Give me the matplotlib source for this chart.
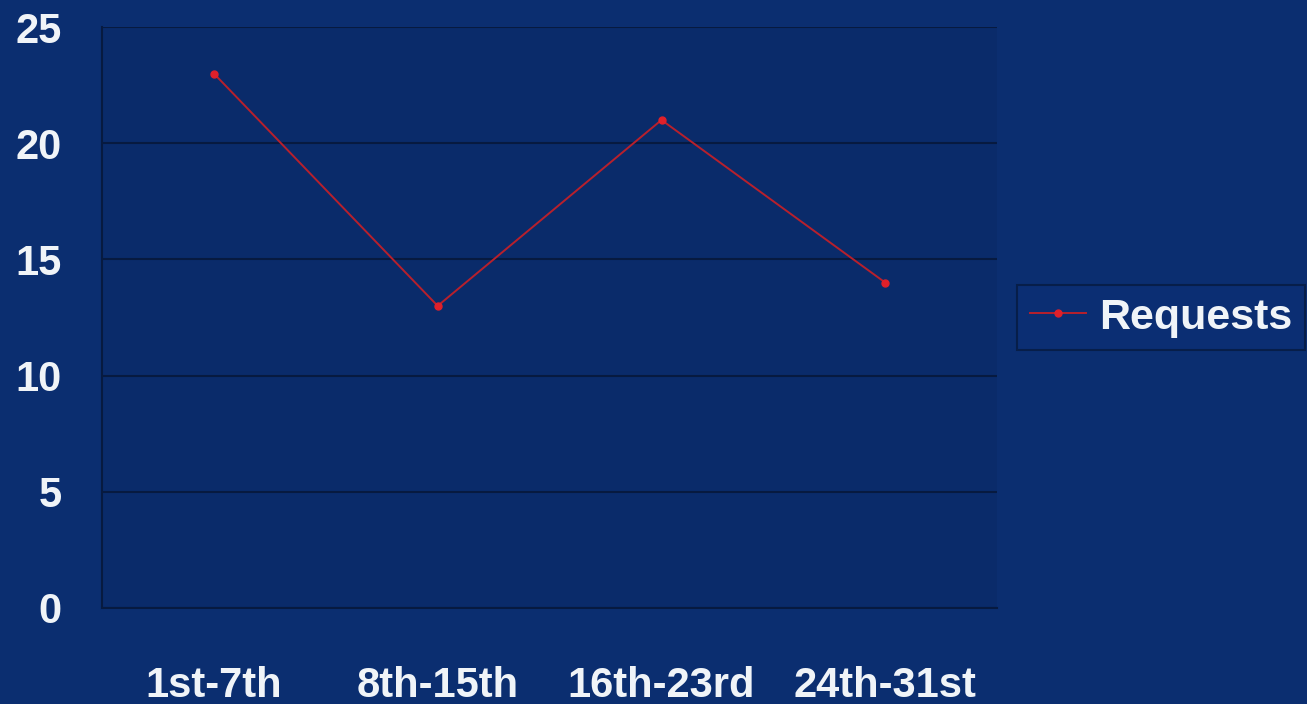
import matplotlib.pyplot as plt

categories = ["1st-7th", "8th-15th", "16th-23rd", "24th-31st"]
requests = [23, 13, 21, 14]

bg = "#0b2e70"
plt.rcParams['font.family'] = ['Liberation Sans', 'DejaVu Sans']

fig = plt.figure(figsize=(13.07, 7.04), dpi=100, facecolor=bg)
ax = fig.add_axes([0.078, 0.1364, 0.685, 0.8252])
ax.set_facecolor("#0a2b6a")

x = range(len(categories))
ax.plot(x, requests, color="#b8202c", lw=1.4, marker="o", ms=5,
        markerfacecolor="#e0202a", markeredgecolor="#e0202a", label="Requests")

ax.set_xlim(-0.5, len(categories) - 0.5)
ax.set_ylim(0, 25)
ax.set_yticks(range(0, 26, 5))
ax.set_xticks(list(x))
ax.set_xticklabels(categories)
ax.yaxis.grid(True, color="#071a40", lw=1.5)
ax.set_axisbelow(True)
for s in ["top", "right"]:
    ax.spines[s].set_visible(False)
ax.spines["left"].set_color("#071a40")
ax.spines["bottom"].set_color("#071a40")
ax.spines["left"].set_linewidth(1.5)
ax.spines["bottom"].set_linewidth(1.5)
ax.tick_params(axis="y", length=0, pad=29, labelsize=30, labelcolor="#f0f4f8")
ax.tick_params(axis="x", length=0, pad=42, labelsize=30, labelcolor="#f0f4f8")
for lbl in ax.get_xticklabels() + ax.get_yticklabels():
    lbl.set_fontweight("bold")

leg = ax.legend(loc="center left", bbox_to_anchor=(1.022, 0.5), frameon=True,
                fancybox=False, handlelength=1.3, handletextpad=0.3,
                borderpad=0.3, borderaxespad=0,
                prop={"weight": "bold", "size": 31})
leg.get_frame().set_facecolor("#0c2f74")
leg.get_frame().set_edgecolor("#071a40")
leg.get_frame().set_linewidth(1.5)
for t in leg.get_texts():
    t.set_color("#f0f4f8")

fig.savefig("out.png", dpi=100, facecolor=bg)
